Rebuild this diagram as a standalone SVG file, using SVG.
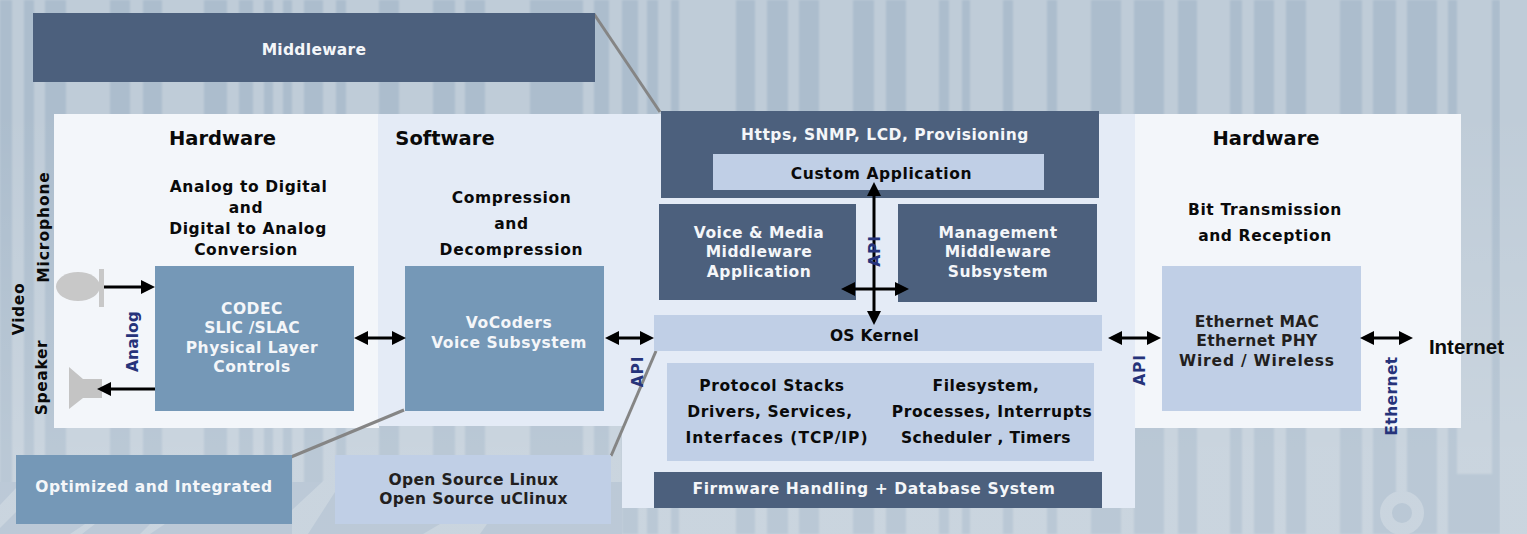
<svg xmlns="http://www.w3.org/2000/svg" width="1527" height="534" viewBox="0 0 1527 534">
<defs>
<linearGradient id="bgfade" x1="0" y1="0" x2="0" y2="1"><stop offset=".2" stop-color="#fff" stop-opacity="0"/><stop offset=".85" stop-color="#fff" stop-opacity=".17"/></linearGradient>
<filter id="soft" x="0" y="0" width="1" height="1"><feGaussianBlur stdDeviation="0.8"/></filter>
<marker id="ah" markerUnits="userSpaceOnUse" markerWidth="15" markerHeight="15" refX="7" refY="7" orient="auto-start-reverse"><path d="M0 0L14 7L0 14Z" fill="#000"/></marker>
</defs>
<style>
text{font-family:"DejaVu Sans",Verdana,sans-serif;font-weight:700;text-anchor:middle;font-size:15.5px;letter-spacing:.5px}
.w{fill:#f4f6f9}.k{fill:#0a0a0a;letter-spacing:.62px}.d{fill:#231f20;letter-spacing:.35px}.h{font-size:19.5px;letter-spacing:0}
.t{letter-spacing:.3px}
.b{fill:#26337a;font-size:15.5px}
.navy{fill:#4c607d}.steel{fill:#7598b7}.pale{fill:#c0cfe6}
.ln{stroke:#000;stroke-width:3;fill:none;marker-start:url(#ah);marker-end:url(#ah)}
.one{stroke:#000;stroke-width:3;fill:none;marker-end:url(#ah)}
.call{stroke:#858585;stroke-width:3;fill:none}
</style>
<g id="background">
<rect width="1527" height="534" fill="#bfccd8"/>
<path filter="url(#soft)" fill="#acbdcd" d="M0 0h12v534h-12zM24 0h10v534h-10zM45 0h21v534h-21zM110 0h20v534h-20zM143 0h19v534h-19zM204 0h23v534h-23zM239 0h14v534h-14zM264 0h9v534h-9zM283 0h9v534h-9zM304 0h19v534h-19zM336 0h10v534h-10zM379 0h20v534h-20zM433 0h22v534h-22zM465 0h20v534h-20zM530 0h53v534h-53zM594 0h15v534h-15zM622 0h16v534h-16zM647 0h11v534h-11zM671 0h8v534h-8zM736 0h19v534h-19zM767 0h21v534h-21zM799 0h20v534h-20zM853 0h21v534h-21zM886 0h20v534h-20zM939 0h10v534h-10zM962 0h8v534h-8zM1003 0h10v534h-10zM1047 0h10v534h-10zM1091 0h30v534h-30zM1134 0h30v534h-30zM1178 0h19v534h-19zM1230 0h12v534h-12zM1254 0h20v534h-20zM1286 0h20v534h-20zM1340 0h22v534h-22zM1373 0h23v534h-23zM1396 493h11v41h-11zM1407 0h30v534h-30zM1448 0h9v534h-9zM1457 474h35v60h-35zM1492 0h8v534h-8z"/>
<circle cx="1402" cy="513" r="16" fill="none" stroke="#bfccd8" stroke-width="12"/>
<path fill="#aebecf" d="M0 482H622V534H0Z"/>
<path fill="#bfccd8" d="M0 505L16 488V512L0 528ZM70 534L85 524H95L82 534ZM140 534L150 524H165L150 534ZM292 510L335 470V492L308 534H292ZM423 534L440 524H487L480 534Z"/>
<rect width="1527" height="534" fill="url(#bgfade)"/>
</g>
<g id="panels">
<rect x="54" y="114" width="325" height="314" fill="#f3f6fa"/>
<rect x="378" y="114" width="757" height="312" fill="#e4ebf6"/>
<rect x="622" y="114" width="513" height="394" fill="#e4ebf6"/>
<rect x="1135" y="114" width="326" height="314" fill="#f3f6fa"/>
</g>
<g id="connectors">
<line class="call" x1="594" y1="14" x2="660" y2="112"/>
<line class="call" x1="404" y1="410" x2="291" y2="457"/>
<line class="call" x1="656" y1="351" x2="611" y2="456"/>
</g>
<g id="middleware"><rect class="navy" x="33" y="13" width="562" height="69"/><text class="w t" x="314" y="55">Middleware</text></g>
<g id="hw-left-title"><text class="k h" x="222.5" y="145">Hardware</text>
<text class="k" x="248.5" y="192">Analog to Digital</text><text class="k" x="246" y="213">and</text><text class="k" x="248" y="234">Digital to Analog</text><text class="k" x="246" y="255">Conversion</text></g>
<g id="sw-title"><text class="k h" x="445" y="145">Software</text>
<text class="k" x="511.5" y="203">Compression</text><text class="k" x="511.5" y="229">and</text><text class="k" x="511.5" y="255" style="letter-spacing:.75px">Decompression</text></g>
<g id="codec"><rect class="steel" x="155" y="266" width="199" height="145"/><text class="w" x="252" y="314">CODEC</text><text class="w" x="252" y="333" style="letter-spacing:.2px">SLIC /SLAC</text><text class="w" x="252" y="353">Physical Layer</text><text class="w" x="252" y="372">Controls</text></g>
<g id="vocoders"><rect class="steel" x="405" y="266" width="199" height="145"/><text class="w" x="509" y="328">VoCoders</text><text class="w" x="509" y="348">Voice Subsystem</text></g>
<g id="optimized"><rect class="steel" x="16" y="455" width="276" height="69"/><text class="w" x="154" y="492">Optimized and Integrated</text></g>
<g id="opensource"><rect class="pale" x="335" y="455" width="276" height="69"/><text class="d" x="473.5" y="485">Open Source Linux</text><text class="d" x="473.5" y="504">Open Source uClinux</text></g>
<g id="https"><rect class="navy" x="661" y="111" width="438" height="87"/><text class="w" x="885" y="140">Https, SNMP, LCD, Provisioning</text></g>
<g id="custom"><rect class="pale" x="713" y="154" width="331" height="36"/><text class="k" x="881.5" y="179">Custom Application</text></g>
<g id="voice-media"><rect class="navy" x="659" y="204" width="197" height="96"/><text class="w" x="759" y="238">Voice &amp; Media</text><text class="w" x="759" y="257">Middleware</text><text class="w" x="759" y="277">Application</text></g>
<g id="management"><rect class="navy" x="898" y="204" width="199" height="98"/><text class="w" x="998" y="238">Management</text><text class="w" x="998" y="257">Middleware</text><text class="w" x="998" y="277">Subsystem</text></g>
<g id="kernel"><rect class="pale" x="654" y="315" width="448" height="36"/><text class="k t" x="874.5" y="341">OS Kernel</text></g>
<g id="stacks"><rect class="pale" x="667" y="363" width="427" height="98"/>
<text class="k" x="772" y="391">Protocol Stacks</text><text class="k" x="770" y="417">Drivers, Services,</text><text class="k" x="777" y="443" style="letter-spacing:1px">Interfaces (TCP/IP)</text>
<text class="k" x="986" y="391">Filesystem,</text><text class="k" x="992" y="417">Processes, Interrupts</text><text class="k" x="986" y="443" style="letter-spacing:.35px">Scheduler , Timers</text></g>
<g id="firmware"><rect class="navy" x="654" y="472" width="448" height="36"/><text class="w" x="874" y="494" style="letter-spacing:.58px">Firmware Handling + Database System</text></g>
<g id="hw-right-title"><text class="k h" x="1266" y="145">Hardware</text><text class="k" x="1265" y="215">Bit Transmission</text><text class="k" x="1265" y="241">and Reception</text></g>
<g id="ethernet"><rect class="pale" x="1162" y="266" width="199" height="145"/><text class="d" x="1257" y="327">Ethernet MAC</text><text class="d" x="1257" y="346">Ethernet PHY</text><text class="d" x="1257" y="366" style="letter-spacing:.8px">Wired / Wireless</text></g>
<g id="mic"><ellipse cx="78" cy="286.5" rx="22" ry="14.5" fill="#c8c8c8"/><rect x="99" y="269" width="5" height="38" fill="#c8c8c8"/></g>
<g id="spk"><path d="M69 367L83 379H102V398H83L69 409Z" fill="#c4c4c4"/></g>
<g id="arrows">
<line class="one" x1="104" y1="287" x2="148" y2="287"/>
<line class="one" x1="155" y1="389" x2="104" y2="389"/>
<line class="ln" x1="361" y1="338" x2="399" y2="338"/>
<line class="ln" x1="612" y1="338" x2="647" y2="338"/>
<line class="ln" x1="1115" y1="338" x2="1154" y2="338"/>
<line class="ln" x1="1367" y1="338" x2="1406" y2="338"/>
<line class="ln" x1="874" y1="189" x2="874" y2="318"/>
<line class="ln" x1="848" y1="289" x2="902" y2="289"/>
</g>
<g id="labels">
<text class="k" transform="translate(24,309) rotate(-90)">Video</text>
<text class="k" transform="translate(49,227) rotate(-90)" style="letter-spacing:.9px">Microphone</text>
<text class="k" transform="translate(47,377.500) rotate(-90)">Speaker</text>
<text class="b" transform="translate(138,341.500) rotate(-90)" style="letter-spacing:.1px">Analog</text>
<text class="b" transform="translate(643,371.500) rotate(-90)" style="letter-spacing:.8px">API</text>
<text class="b" transform="translate(880,251) rotate(-90)" style="letter-spacing:.8px">API</text>
<text class="b" transform="translate(1145,370) rotate(-90)" style="letter-spacing:.8px">API</text>
<text class="b" transform="translate(1397,396) rotate(-90)" style="letter-spacing:.4px">Ethernet</text>
<text class="k" x="1466.500" y="354" style="font-family:'Liberation Sans',Arial,sans-serif;font-size:20.5px;letter-spacing:0">Internet</text>
</g>
</svg>
